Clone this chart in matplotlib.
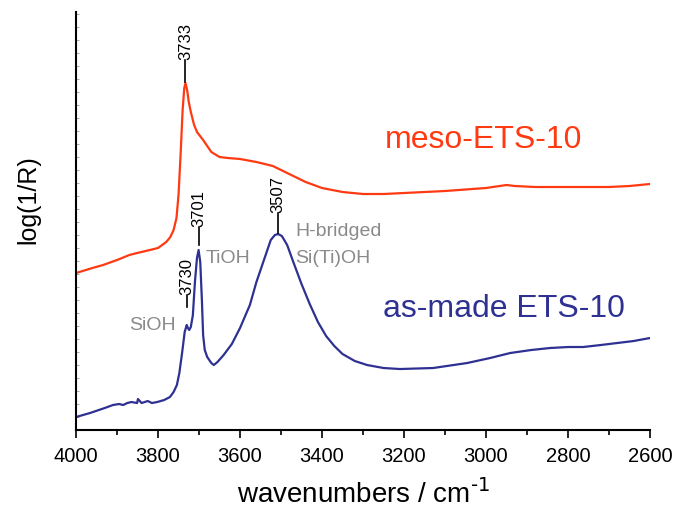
import numpy as np
import matplotlib
matplotlib.use('Agg')
import matplotlib.pyplot as plt
from matplotlib.ticker import MultipleLocator

plt.rcParams['font.family'] = ['Liberation Sans', 'DejaVu Sans']

# meso-ETS-10 spectrum (wavenumber, log(1/R) in arbitrary units)
meso_wn = [4000, 3960, 3934, 3900, 3870, 3851, 3820, 3800, 3780, 3770, 3762, 3755,
           3750, 3745, 3740, 3736, 3733, 3729, 3725, 3720, 3712, 3705, 3690, 3670,
           3650, 3630, 3600, 3560, 3520, 3480, 3440, 3400, 3350, 3300, 3250, 3200,
           3100, 3000, 2950, 2930, 2880, 2800, 2700, 2650, 2600]
meso_val = [157, 162, 165, 170, 175, 177, 180, 182, 188, 193, 200, 212,
            235, 275, 320, 342, 347, 340, 328, 318, 305, 298, 290, 278,
            273, 272, 271, 268, 264, 256, 248, 242, 238, 236, 236, 237,
            239, 242, 245, 244, 243, 243, 243, 244, 246]

# as-made ETS-10 spectrum
asm_wn = [4000, 3966, 3930, 3910, 3895, 3885, 3875, 3865, 3851, 3849, 3840, 3825,
          3815, 3802, 3785, 3771, 3762, 3754, 3748, 3741, 3735, 3730, 3727, 3724,
          3720, 3715, 3710, 3705, 3701, 3697, 3693, 3690, 3686, 3680, 3670, 3664,
          3655, 3640, 3620, 3600, 3576, 3560, 3540, 3525, 3515, 3507, 3498, 3485,
          3470, 3450, 3430, 3410, 3390, 3370, 3350, 3320, 3290, 3250, 3210, 3129,
          3046, 2990, 2941, 2890, 2844, 2800, 2763, 2720, 2680, 2640, 2600]
asm_val = [13, 17, 22, 25, 26, 25, 27, 28, 27, 31, 27, 29,
           27, 28, 30, 33, 38, 45, 57, 78, 98, 105, 102, 100,
           103, 115, 148, 172, 180, 168, 130, 95, 80, 73, 67, 65,
           68, 75, 86, 102, 125, 148, 172, 190, 195, 196, 194, 185,
           168, 146, 126, 108, 94, 84, 76, 69, 65, 62, 61, 62,
           67, 72, 77, 80, 82, 83, 83, 85, 87, 89, 92]

peak_wn = [3733, 3701, 3730, 3507]
peak_lab = ['3733', '3701', '3730', '3507']
peak_y0 = [348, 185, 123, 197]
peak_y1 = [370, 203, 135, 217]

red = '#ff3a12'
blue = '#2e3192'
gray = '#8a8a8a'

fig = plt.figure(figsize=(6.74, 5.08), dpi=100)
ax = fig.add_axes([0.1128, 0.1535, 0.8516, 0.8229])

ax.plot(meso_wn, meso_val, color=red, lw=1.6)
ax.plot(asm_wn, asm_val, color=blue, lw=1.6)

for wn, lab, y0, y1 in zip(peak_wn, peak_lab, peak_y0, peak_y1):
    ax.plot([wn, wn], [y0, y1], color='black', lw=1.2)
    ax.text(wn, y1, lab, rotation=90, ha='center', va='bottom', fontsize=12)

ax.text(3246, 282, 'meso-ETS-10', color=red, fontsize=23, va='baseline')
ax.text(3251, 113, 'as-made ETS-10', color=blue, fontsize=23, va='baseline')
ax.text(3871, 100, 'SiOH', color=gray, fontsize=14, va='baseline')
ax.text(3685, 167, 'TiOH', color=gray, fontsize=14, va='baseline')
ax.text(3466, 194, 'H-bridged', color=gray, fontsize=14, va='baseline')
ax.text(3466, 167, 'Si(Ti)OH', color=gray, fontsize=14, va='baseline')

ax.set_xlim(4000, 2600)
ax.set_ylim(0, 418)
ax.xaxis.set_major_locator(MultipleLocator(200))
ax.xaxis.set_minor_locator(MultipleLocator(100))
ax.yaxis.set_major_locator(MultipleLocator(13))
ax.tick_params(axis='x', which='major', direction='out', length=6, width=1.2,
               labelsize=14.5, pad=6)
ax.tick_params(axis='x', which='minor', direction='out', length=3.5, width=1.2)
ax.tick_params(axis='y', which='major', direction='in', length=2.5, width=0.6,
               color='#999999', labelleft=False)

for s in ['top', 'right']:
    ax.spines[s].set_visible(False)
for s in ['left', 'bottom']:
    ax.spines[s].set_linewidth(1.5)

ax.set_xlabel('wavenumbers / cm$^{\\text{-1}}$', fontsize=20, labelpad=10)
ax.set_ylabel('log(1/R)', fontsize=18)
ax.yaxis.set_label_coords(-0.062, 0.55)

fig.savefig('out.png', dpi=100)
